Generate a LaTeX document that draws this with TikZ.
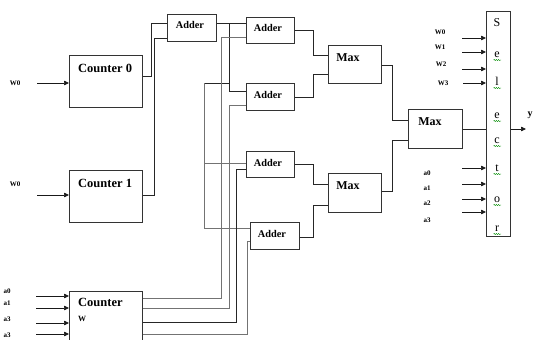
\documentclass[tikz,border=0pt]{standalone}
\usepackage{fontspec}
\setmainfont{Liberation Serif}
\usetikzlibrary{arrows.meta,decorations.pathmorphing}
\begin{document}
\begin{tikzpicture}[x=1pt,y=-1pt,
  blk/.style={draw=black!80, line width=0.8pt, inner sep=0pt, anchor=north west},
  wire/.style={draw=black!85, line width=0.7pt},
  gwire/.style={draw=black!55, line width=0.9pt},
  arr/.style={draw=black!90, line width=0.7pt, -{Triangle[length=5pt,width=4.5pt]}},
  big/.style={font=\fontsize{12.5}{14}\selectfont\bfseries, inner sep=0pt},
  mid/.style={font=\fontsize{10.3}{12}\selectfont\bfseries, inner sep=0pt},
  mx/.style={font=\fontsize{12}{14}\selectfont\bfseries, inner sep=0pt},
  let/.style={font=\fontsize{12}{14}\selectfont, inner sep=0pt, anchor=base},
  tiny/.style={font=\fontsize{7}{8}\selectfont\bfseries, inner sep=0pt},
  sq/.style={draw=green!55!black, line width=0.4pt, decorate, decoration={snake, amplitude=0.6pt, segment length=2.2pt}},
]
\useasboundingbox (0,0) rectangle (533,340);

% boxes
\node[blk, minimum width=73pt, minimum height=52pt] (c0) at (69,55) {};
\node[blk, minimum width=73pt, minimum height=52pt] (c1) at (69,170) {};
\node[blk, minimum width=73pt, minimum height=55pt] (cw) at (69,291) {};
\node[blk, minimum width=49pt, minimum height=27pt] (a0) at (167,14) {};
\node[blk, minimum width=48pt, minimum height=26pt] (a1) at (246,17) {};
\node[blk, minimum width=48pt, minimum height=27pt] (a2) at (246,83) {};
\node[blk, minimum width=48pt, minimum height=26pt] (a3) at (246,151) {};
\node[blk, minimum width=49pt, minimum height=27pt] (a4) at (250,222) {};
\node[blk, minimum width=53pt, minimum height=38pt] (m1) at (328,45) {};
\node[blk, minimum width=53pt, minimum height=39pt] (m2) at (328,173) {};
\node[blk, minimum width=54pt, minimum height=39pt] (m3) at (408,109) {};
\node[blk, minimum width=24pt, minimum height=225pt] (sel) at (486,11) {};

% box texts
\node[big, anchor=west] (c0t) at (78,68) {Counter 0};
\node[big, anchor=west] (c1t) at (78,183) {Counter 1};
\node[big, anchor=west] (cwt) at (78,302) {Counter};
\node[font=\fontsize{8}{9}\selectfont\bfseries, inner sep=0pt, anchor=west] (cww) at (78,319) {W};
\node[mid] (a0t) at (190,25) {Adder};
\node[mid] (a1t) at (268,28) {Adder};
\node[mid] (a2t) at (268,95) {Adder};
\node[mid] (a3t) at (268,163) {Adder};
\node[mid] (a4t) at (272,234) {Adder};
\node[mx] (m1t) at (348,58) {Max};
\node[mx] (m2t) at (348,186) {Max};
\node[mx] (m3t) at (430,122) {Max};

% selector letters
\node[let] (s1) at (497,27) {S};
\node[let] (s2) at (497,57) {e};
\node[let] (s3) at (497,85) {l};
\node[let] (s4) at (497,118) {e};
\node[let] (s5) at (497,143) {c};
\node[let] (s6) at (497,171) {t};
\node[let] (s7) at (497,202) {o};
\node[let] (s8) at (497,231) {r};
\foreach \yy in {57,85,118,143,171,202,231}
  \draw[sq] (493.5,\yy+3) -- (501,\yy+3);

% left inputs
\node[tiny] (w0a) at (15,83) {W0};
\node[tiny] (w0b) at (15,184) {W0};
\coordinate (iw0a) at (37,83);
\coordinate (iw0b) at (37,195);
\draw[arr] (iw0a) -- (c0.west |- iw0a);
\draw[arr] (iw0b) -- (c1.west |- iw0b);

\node[tiny] (la0) at (7,291) {a0};
\node[tiny] (la1) at (7,303) {a1};
\node[tiny] (la2) at (7,319) {a3};
\node[tiny] (la3) at (7,335) {a3};
\foreach \yy/\nm in {296/ca0,308/ca1,323/ca2,334/ca3}{
  \coordinate (\nm) at (36,\yy);
  \draw[arr] (\nm) -- (cw.west |- \nm);
}

% selector inputs
\node[tiny] (sw0) at (440,32) {W0};
\node[tiny] (sw1) at (440,47) {W1};
\node[tiny] (sw2) at (441,64) {W2};
\node[tiny] (sw3) at (443,83) {W3};
\foreach \xx/\yy/\nm in {462/38/sq0,462/52/sq1,462/69/sq2,463/83/sq3}{
  \coordinate (\nm) at (\xx,\yy);
  \draw[arr] (\nm) -- (sel.west |- \nm);
}
\node[tiny] (sa0) at (427,173) {a0};
\node[tiny] (sa1) at (427,188) {a1};
\node[tiny] (sa2) at (427,203) {a2};
\node[tiny] (sa3) at (427,220) {a3};
\foreach \yy/\nm in {168/sb0,184/sb1,199/sb2,212/sb3}{
  \coordinate (\nm) at (462,\yy);
  \draw[arr] (\nm) -- (sel.west |- \nm);
}

% counters to first adder
\draw[wire] (c0.east |- 0,76) -| (151,23) -- (a0.west |- 0,23);
\draw[wire] (c1.east |- 0,195) -| (154,38) -- (a0.west |- 0,38);

% distribution of adder output
\coordinate (j1) at (229,23);
\draw[wire] (a0.east |- 0,23) -- (a1.west |- 0,23);
\draw[wire] (j1) |- (a2.west |- 0,91);
\draw[wire] (204,83) -- (229,83);
\draw[gwire] (204,83) |- (a4.west |- 0,228);
\draw[gwire] (204,163) -- (a3.west |- 0,163);

% counter W outputs
\draw[gwire] (cw.east |- 0,298) -| (221,37) -- (a1.west |- 0,37);
\draw[gwire] (cw.east |- 0,308) -| (229,105) -- (a2.west |- 0,105);
\draw[wire] (cw.east |- 0,322) -| (236,169) -- (a3.west |- 0,169);
\draw[gwire] (cw.east |- 0,334) -| (247,241) -- (a4.west |- 0,241);

% adders to max
\draw[wire] (a1.east |- 0,30) -| (313,55) -- (m1.west |- 0,55);
\draw[wire] (a2.east |- 0,97) -| (313,74) -- (m1.west |- 0,74);
\draw[wire] (a3.east |- 0,164) -| (313,184) -- (m2.west |- 0,184);
\draw[wire] (a4.east |- 0,237) -| (313,205) -- (m2.west |- 0,205);

% max to max
\draw[wire] (m1.east |- 0,65) -| (392,120) -- (m3.west |- 0,120);
\draw[wire] (m2.east |- 0,191) -| (392,140) -- (m3.west |- 0,140);
\draw[wire] (m3.east |- 0,129) -- (sel.west |- 0,129);

% output
\coordinate (yout) at (526,129);
\draw[arr] (sel.east |- yout) -- (yout);
\node[font=\fontsize{10}{12}\selectfont\bfseries, inner sep=0pt] (ylab) at (530,115) {y};
\end{tikzpicture}
\end{document}
